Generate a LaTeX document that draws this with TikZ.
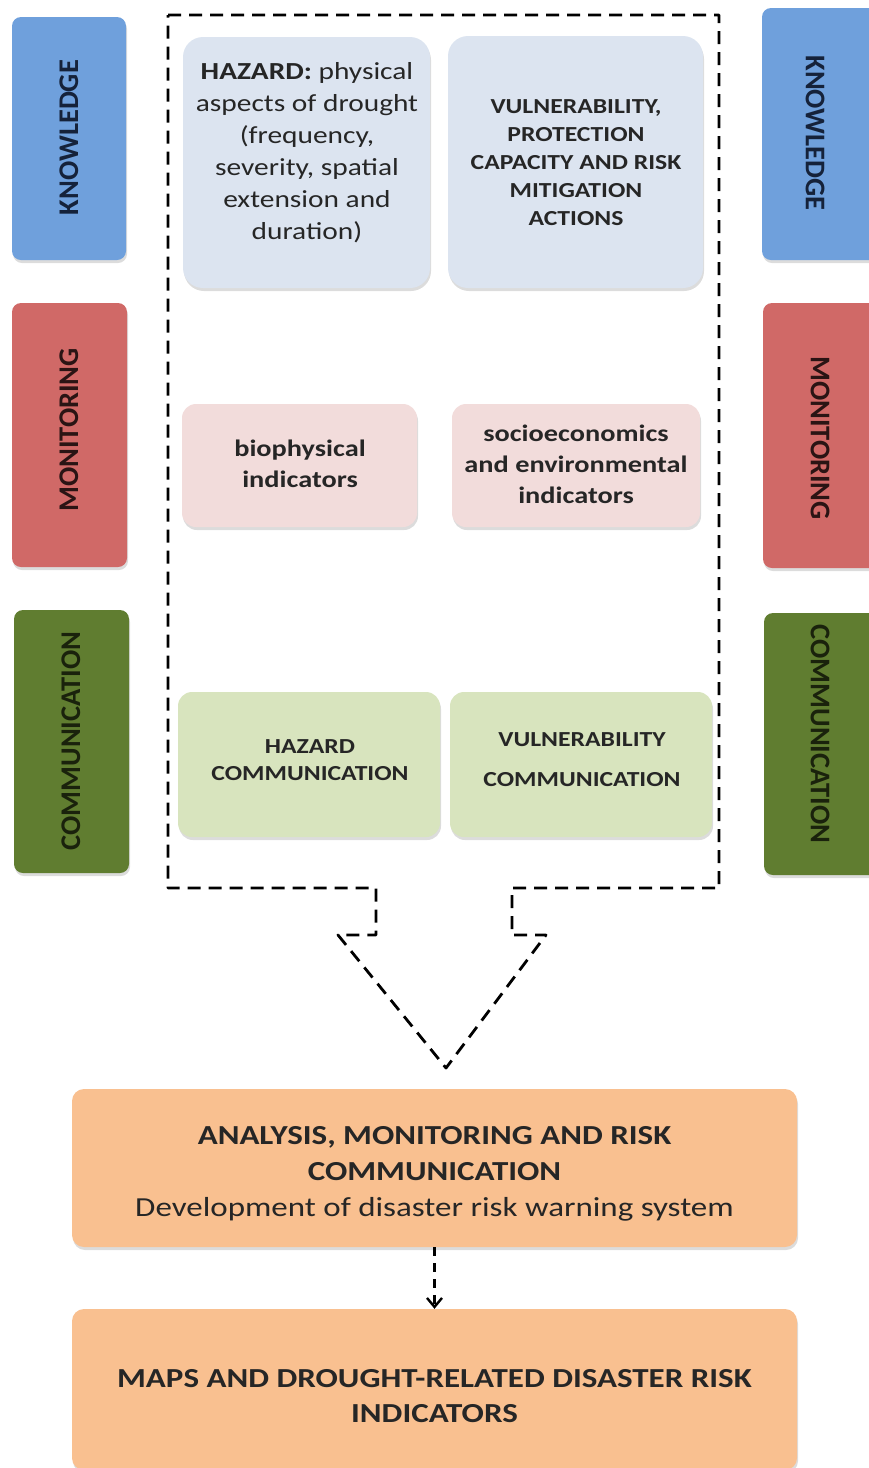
\documentclass[tikz,border=0pt]{standalone}
\usepackage{fontspec}
\setmainfont{Carlito}[FakeStretch=1.2]
\newfontfamily\barfont{Carlito}
\usetikzlibrary{shadows,arrows.meta}
\definecolor{kblue}{HTML}{6FA0DC}
\definecolor{mred}{HTML}{D06967}
\definecolor{cgreen}{HTML}{607D30}
\definecolor{lblue}{HTML}{DCE4F0}
\definecolor{lpink}{HTML}{F2DCDB}
\definecolor{lgreen}{HTML}{D8E4BE}
\definecolor{orng}{HTML}{F9C090}
\definecolor{txt}{HTML}{262626}
\definecolor{ktxt}{HTML}{15223A}
\definecolor{mtxt}{HTML}{2A1414}
\definecolor{ctxt}{HTML}{1A220C}
\begin{document}
\begin{tikzpicture}[x=1pt,y=-1pt,
  shad/.style={drop shadow={shadow xshift=1pt,shadow yshift=-3pt,opacity=.28}},
  sidebar/.style={rounded corners=9pt, inner sep=0pt, shad},
  bartext/.style={font=\barfont\bfseries\fontsize{28.5}{30}\selectfont, inner sep=0pt},
  inbox/.style={rounded corners=20pt, inner sep=0pt, shad},
  smallbox/.style={rounded corners=14pt, inner sep=0pt, shad},
  obox/.style={fill=orng, rounded corners=12pt, inner sep=0pt, shad},
  boxtext/.style={align=center, inner sep=0pt, text=txt},
  outline/.style={line width=2.8pt, dash pattern=on 13pt off 8pt, line join=round},
  conn/.style={line width=2.4pt, dash pattern=on 9pt off 7pt,
    -{Straight Barb[length=9pt,width=15pt,line width=2.4pt]}}
]
\useasboundingbox (0,0) rectangle (869,1468);
\clip (0,0) rectangle (869,1468);

% side bars left
\node[sidebar, fill=kblue, minimum width=114pt, minimum height=243pt] (kL) at (69,138.5) {};
\node[bartext, text=ktxt, rotate=90] (kLt) at (69,137.5) {KNOWLEDGE};
\node[sidebar, fill=mred, minimum width=115pt, minimum height=264pt] (mL) at (69.5,435) {};
\node[bartext, text=mtxt, rotate=90] (mLt) at (69,430) {MONITORING};
\node[sidebar, fill=cgreen, minimum width=115pt, minimum height=263pt] (cL) at (71.5,741.5) {};
\node[bartext, text=ctxt, rotate=90] (cLt) at (71,741) {COMMUNICATION};

% side bars right
\node[sidebar, fill=kblue, minimum width=116pt, minimum height=252pt] (kR) at (820,134) {};
\node[bartext, text=ktxt, rotate=-90] (kRt) at (815,133) {KNOWLEDGE};
\node[sidebar, fill=mred, minimum width=116pt, minimum height=265pt] (mR) at (821,435.5) {};
\node[bartext, text=mtxt, rotate=-90] (mRt) at (820,438) {MONITORING};
\node[sidebar, fill=cgreen, minimum width=116pt, minimum height=262pt] (cR) at (822,744) {};
\node[bartext, text=ctxt, rotate=-90] (cRt) at (820,734) {COMMUNICATION};

% dashed outline with arrow
\draw[outline] (168,15) -- (719,15) -- (719,888) -- (512,888) -- (512,935)
  -- (546,935) -- (446,1068) -- (338,935) -- (376,935) -- (376,888)
  -- (168,888) -- cycle;

% knowledge row
\node[inbox, fill=lblue, minimum width=247pt, minimum height=251pt] (haz) at (306.5,162.5) {};
\node[boxtext, font=\fontsize{24.5}{32}\selectfont] (hazT) at (307,153)
  {\textbf{HAZARD:} physical\\aspects of drought\\(frequency,\\severity, spatial\\extension and\\duration)};
\node[inbox, fill=lblue, minimum width=255pt, minimum height=252pt] (vul) at (575.5,162) {};
\node[boxtext, font=\bfseries\fontsize{21.4}{28}\selectfont] (vulT) at (576,163)
  {VULNERABILITY,\\PROTECTION\\CAPACITY AND RISK\\MITIGATION\\ACTIONS};

% monitoring row
\node[smallbox, fill=lpink, minimum width=235pt, minimum height=123pt] (bio) at (299.5,465.5) {};
\node[boxtext, font=\bfseries\fontsize{23.6}{31}\selectfont] (bioT) at (300,464)
  {biophysical\\indicators};
\node[smallbox, fill=lpink, minimum width=248pt, minimum height=123pt] (soc) at (576,465.5) {};
\node[boxtext, font=\bfseries\fontsize{23.6}{31}\selectfont] (socT) at (576,464)
  {socioeconomics\\and environmental\\indicators};

% communication row
\node[smallbox, fill=lgreen, minimum width=262pt, minimum height=145pt] (hcom) at (309,764.5) {};
\node[boxtext, font=\bfseries\fontsize{21.4}{27}\selectfont] (hcomT) at (310,760)
  {HAZARD\\COMMUNICATION};
\node[smallbox, fill=lgreen, minimum width=262pt, minimum height=145pt] (vcom) at (581,764.5) {};
\node[boxtext, font=\bfseries\fontsize{21.4}{40}\selectfont] (vcomT) at (582,760)
  {VULNERABILITY\\COMMUNICATION};

% bottom boxes
\node[obox, minimum width=725pt, minimum height=158pt] (ana) at (434.5,1168) {};
\node[boxtext, font=\fontsize{27.5}{36}\selectfont] (anaT) at (434.5,1174)
  {\textbf{ANALYSIS, MONITORING AND RISK}\\\textbf{COMMUNICATION}\\Development of disaster risk warning system};
\node[obox, minimum width=725pt, minimum height=161pt] (maps) at (434.5,1389.5) {};
\node[boxtext, font=\bfseries\fontsize{27.5}{35}\selectfont] (mapsT) at (434.5,1396)
  {MAPS AND DROUGHT-RELATED DISASTER RISK\\INDICATORS};

\draw[conn] (ana.south) -- (maps.north);
\end{tikzpicture}
\end{document}
